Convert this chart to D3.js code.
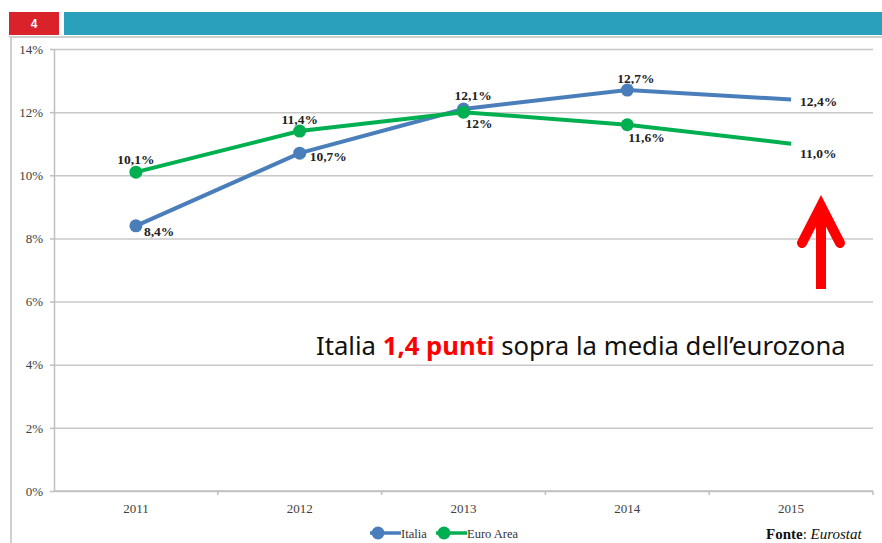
<!DOCTYPE html>
<html>
<head>
<meta charset="utf-8">
<script src="https://d3js.org/d3.v7.min.js"></script>
<style>
    body { margin: 0; background: #ffffff; }
    svg { display: block; }
    text { font-family: "Liberation Serif", serif; fill: #333333; }
    .axis path, .axis line { stroke: #bfbfbf; stroke-width: 1.5px; }
    .axis text { font-size: 13px; fill: #404040; }
    .grid line { stroke: #c8c8c8; stroke-width: 1.5px; }
    .grid path { stroke-width: 0; }
    .lbl { font-size: 13.5px; font-weight: bold; fill: #222222; }
</style>
</head>
<body>
<div id="chart"></div>
<script>
    // data
    const years = ["2011", "2012", "2013", "2014", "2015"];
    const italia = [8.4, 10.7, 12.1, 12.7, 12.4];
    const euroArea = [10.1, 11.4, 12.0, 11.6, 11.0];
    const italiaLabels = ["8,4%", "10,7%", "12,1%", "12,7%", "12,4%"];
    const euroLabels = ["10,1%", "11,4%", "12%", "11,6%", "11,0%"];
    const yTicks = [0, 2, 4, 6, 8, 10, 12, 14];
    const seriesNames = ["Italia", "Euro Area"];

    const W = 882, H = 543;
    const margin = {top: 49, right: 9, bottom: 52, left: 54},
        width = W - margin.left - margin.right,
        height = H - margin.top - margin.bottom;

    const svg = d3.select("#chart").append("svg")
        .attr("width", W).attr("height", H);

    // slide header
    svg.append("rect").attr("x", 9).attr("y", 12).attr("width", 50).attr("height", 23).attr("fill", "#d9222a");
    svg.append("text").attr("x", 34).attr("y", 28).attr("text-anchor", "middle")
        .style("font-family", "Liberation Sans, sans-serif").style("font-weight", "bold")
        .style("font-size", "12px").style("fill", "#ffffff").text("4");
    svg.append("rect").attr("x", 64).attr("y", 12).attr("width", W - 64).attr("height", 23).attr("fill", "#2aa0bd");

    // chart frame
    svg.append("line").attr("x1", 9).attr("x2", W).attr("y1", 37).attr("y2", 37)
        .attr("stroke", "#cfcfcf").attr("stroke-width", 2);
    svg.append("line").attr("x1", 11).attr("x2", 11).attr("y1", 37).attr("y2", H)
        .attr("stroke", "#cfcfcf").attr("stroke-width", 2);

    const g = svg.append("g").attr("transform", `translate(${margin.left},${margin.top})`);

    const x = d3.scaleBand().domain(years).range([0, width]);
    const y = d3.scaleLinear().domain([0, 14]).range([height, 0]);
    const cx = d => x(d) + x.bandwidth() / 2;

    // gridlines
    g.append("g").attr("class", "grid")
        .call(d3.axisLeft(y).tickValues(yTicks).tickSize(-width).tickFormat(""));

    // y axis
    g.append("g").attr("class", "axis")
        .call(d3.axisLeft(y).tickValues(yTicks).tickSize(4).tickSizeOuter(0).tickPadding(7)
            .tickFormat(d => d + "%"));

    // x axis with ticks between categories
    const xa = g.append("g").attr("class", "axis").attr("transform", `translate(0,${height})`);
    xa.append("line").attr("x1", 0).attr("x2", width).attr("stroke", "#bfbfbf").attr("stroke-width", 1.5);
    xa.selectAll(".tk").data(years).join("line")
        .attr("x1", d => x(d) + x.bandwidth()).attr("x2", d => x(d) + x.bandwidth())
        .attr("y1", 0).attr("y2", 4).attr("stroke", "#bfbfbf").attr("stroke-width", 1.5);
    xa.selectAll("text").data(years).join("text")
        .attr("x", d => cx(d)).attr("y", 22).attr("text-anchor", "middle")
        .style("font-size", "13px").style("fill", "#404040").text(d => d);

    const series = [
        {name: seriesNames[0], values: italia, labels: italiaLabels, color: "#4a7ebb",
         pos: [[8, 10, "start"], [10, 8, "start"], [-9, -9, "start"], [-10, -7, "start"], [9, 6, "start"]]},
        {name: seriesNames[1], values: euroArea, labels: euroLabels, color: "#00b050",
         pos: [[0, -8, "middle"], [0, -7, "middle"], [2, 16, "start"], [1, 17, "start"], [9, 14, "start"]]}
    ];

    const line = d3.line().x((d, i) => cx(years[i])).y(d => y(d));

    series.forEach(s => {
        g.append("path").datum(s.values).attr("d", line)
            .attr("fill", "none").attr("stroke", s.color).attr("stroke-width", 4);
        g.selectAll(null).data(s.values.slice(0, 4)).join("circle")
            .attr("cx", (d, i) => cx(years[i])).attr("cy", d => y(d)).attr("r", 6.5)
            .attr("fill", s.color);
    });
    series.forEach(s => {
        g.selectAll(null).data(s.values).join("text")
            .attr("class", "lbl")
            .attr("x", (d, i) => cx(years[i]) + s.pos[i][0])
            .attr("y", (d, i) => y(d) + s.pos[i][1])
            .attr("text-anchor", (d, i) => s.pos[i][2])
            .text((d, i) => s.labels[i]);
    });

    // legend
    const leg = svg.append("g").attr("transform", "translate(370,533)");
    series.forEach((s, i) => {
        const lg = leg.append("g").attr("transform", `translate(${i * 66},0)`);
        lg.append("line").attr("x1", 0).attr("x2", 31).attr("stroke", s.color).attr("stroke-width", 3.5);
        lg.append("circle").attr("cx", 8).attr("r", 6.5).attr("fill", s.color);
        lg.append("text").attr("x", 31).attr("y", 4.5).style("font-size", "12.5px").style("fill", "#333").text(s.name);
    });

    // source
    const src = svg.append("text").attr("x", 766).attr("y", 539)
        .style("font-size", "15px").style("fill", "#111");
    src.append("tspan").style("font-weight", "bold").text("Fonte");
    src.append("tspan").text(": ");
    src.append("tspan").style("font-style", "italic").text("Eurostat");

    // annotation
    const ann = svg.append("text").attr("x", 316).attr("y", 355)
        .style("font-family", "'Noto Sans', sans-serif").style("font-size", "22px").style("fill", "#111");
    ann.append("tspan").text("Italia ");
    ann.append("tspan").style("fill", "#ff0000").style("font-weight", "bold").text("1,4 punti");
    ann.append("tspan").text(" sopra la media dell\u2019eurozona");
    const tw = ann.node().getComputedTextLength();
    ann.style("font-size", (22 * 530 / tw) + "px");

    // red arrow
    const ar = svg.append("g").attr("stroke", "#ff0000").attr("fill", "none")
        .attr("stroke-linecap", "round").attr("stroke-linejoin", "miter");
    ar.append("line").attr("x1", 821).attr("x2", 821).attr("y1", 212).attr("y2", 289)
        .attr("stroke-width", 10).attr("stroke-linecap", "butt");
    ar.append("path").attr("d", "M802,243 L821,206 L840,243").attr("stroke-width", 10);
</script>
</body>
</html>
